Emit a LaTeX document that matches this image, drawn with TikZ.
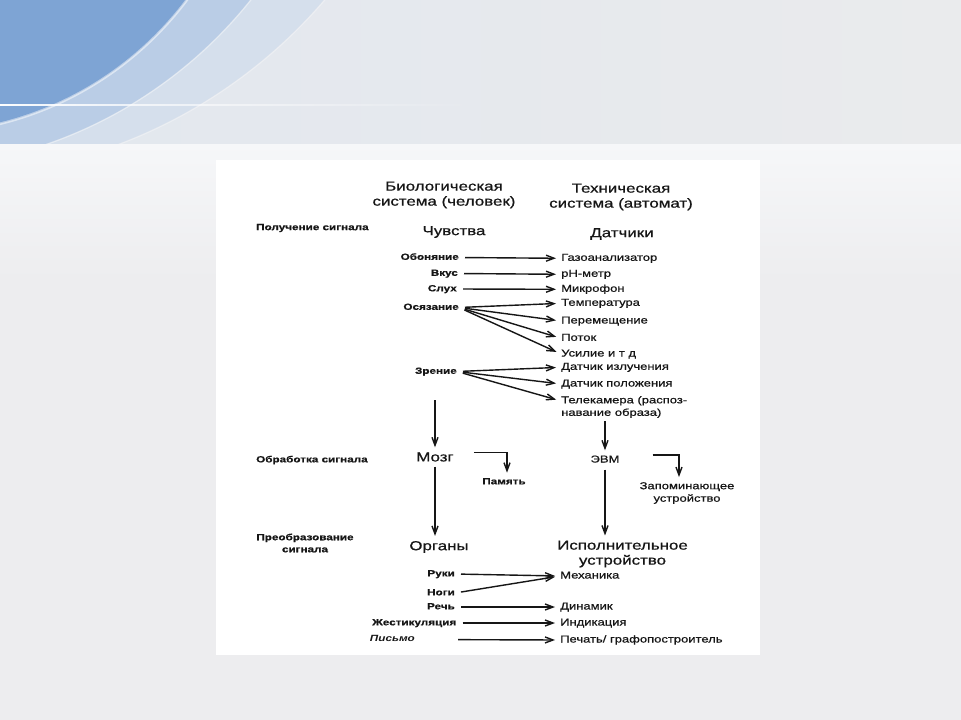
\documentclass[tikz,border=0pt]{standalone}
\usepackage{fontspec}
\newfontfamily\scanfont[FakeStretch=1.3,UprightFeatures={FakeBold=0.7},BoldFeatures={FakeBold=0.6}]{Liberation Sans}
\usetikzlibrary{arrows.meta,calc,fadings}
\definecolor{InkBlack}{RGB}{22,22,22}
\definecolor{SlideGray}{RGB}{237,237,239}
\definecolor{HeadLeft}{RGB}{226,231,238}
\definecolor{HeadRight}{RGB}{234,235,237}
\definecolor{ArcDark}{RGB}{126,164,212}
\definecolor{ArcMid}{RGB}{186,205,230}
\definecolor{ArcLight}{RGB}{213,223,236}
\definecolor{BandWhite}{RGB}{246,247,249}

\begin{document}
\begin{tikzpicture}[x=1pt,y=-1pt,>={Straight Barb[length=8pt,width=6pt]},
    big/.style={font=\scanfont\fontsize{13}{15}\selectfont,text=InkBlack,inner sep=0pt,align=center},
    stage/.style={font=\scanfont\bfseries\fontsize{9}{12}\selectfont,text=InkBlack,inner sep=0pt,align=center},
    organ/.style={font=\scanfont\bfseries\fontsize{9}{11}\selectfont,text=InkBlack,inner sep=0pt,anchor=east,text height=6.5pt,text depth=1.8pt},
    device/.style={font=\scanfont\fontsize{10}{12.5}\selectfont,text=InkBlack,inner sep=0pt,anchor=west,align=left,text height=7pt,text depth=2pt},
    link/.style={->,line width=1.4pt,draw=InkBlack,shorten <=6pt,shorten >=5pt},
    flow/.style={->,line width=1.4pt,draw=InkBlack,shorten <=5pt,shorten >=5pt}]
  \useasboundingbox (0,0) rectangle (961,720);
  % slide background
  \fill[SlideGray] (0,0) rectangle (961,720);
  \shade[top color=BandWhite,bottom color=SlideGray] (0,143) rectangle (961,280);
  \shade[left color=HeadLeft,right color=HeadRight] (0,0) rectangle (961,143);
  \begin{scope}
    \clip (0,0) rectangle (961,143);
    \fill[ArcLight] (-60,-330) circle[radius=506];
    \fill[ArcMid] (-100,-280) circle[radius=448];
    \fill[ArcDark] (-80,-200) circle[radius=332];
    \draw[white,opacity=.5,line width=1.5pt] (-80,-200) circle[radius=334];
    \draw[white,opacity=.4,line width=1pt] (-100,-280) circle[radius=449];
    \draw[white,opacity=.3,line width=1pt] (-60,-330) circle[radius=507];
  \end{scope}
  \fill[white,path fading=east] (0,104.3) rectangle (480,106);
  \fill[white] (216,160) rectangle (760,655);

  \node[big] (bio) at (444,195) {Биологическая\\система (человек)};
  \node[big] (tech) at (621,197) {Техническая\\система (автомат)};
  \node[stage,anchor=west] (receive) at (256,228) {Получение сигнала};
  \node[big] (senses) at (454,232) {Чувства};
  \node[big] (sensors) at (622,234) {Датчики};

  \node[organ] (smell) at (459,257.5) {Обоняние};
  \node[organ] (taste) at (458,273.5) {Вкус};
  \node[organ] (hearing) at (457,289) {Слух};
  \node[organ] (touch) at (459,307.5) {Осязание};
  \node[organ] (sight) at (457,371.5) {Зрение};

  \node[device] (gas) at (561,258.3) {Газоанализатор};
  \node[device] (phmeter) at (561,274.3) {pH-метр};
  \node[device] (micro) at (561,289.3) {Микрофон};
  \node[device] (temper) at (561,303.3) {Температура};
  \node[device] (displ) at (561,321) {Перемещение};
  \node[device] (flux) at (561,338.3) {Поток};
  \node[device] (force) at (561,354) {Усилие и т д};
  \node[device] (radiat) at (561,367.3) {Датчик излучения};
  \node[device] (posit) at (561,384) {Датчик положения};
  \node[device,text height=,text depth=] (camera) at (561,407) {Телекамера (распоз-\\навание образа)};

  \draw[link] (smell.east) -- (gas.west);
  \draw[link] (taste.east) -- (phmeter.west);
  \draw[link] (hearing.east) -- (micro.west);
  \draw[link] (touch.east) -- (temper.west);
  \draw[link] (touch.east) -- (displ.west);
  \draw[link] (touch.east) -- (flux.west);
  \draw[link] (touch.east) -- (force.west);
  \draw[link] (sight.east) -- (radiat.west);
  \draw[link] (sight.east) -- (posit.west);
  \draw[link] (sight.east) -- ([yshift=6pt]camera.west);

  \node[stage,anchor=west] (process) at (256,460) {Обработка сигнала};
  \node[big] (brain) at (435,457) {Мозг};
  \node[organ,anchor=center] (memory) at (504,482) {Память};
  \node[device,anchor=center] (computer) at (605,460) {ЭВМ};
  \node[device,anchor=center,align=center,text height=,text depth=] (storage) at (687,493) {Запоминающее\\устройство};

  \coordinate (sensebase) at (435,400);
  \draw[flow,shorten <=0pt] (sensebase) -- (brain);
  \draw[flow,shorten <=3pt] (camera.south -| computer) -- (computer);
  \draw[flow,shorten <=0pt] ($(brain.east)+(20,-4.5)$) -| ([xshift=3pt]memory.north);
  \draw[flow,shorten <=0pt] ($(computer.east)+(33,-5)$) -| ([xshift=-8pt]storage.north);

  \node[stage] (convert) at (305,543) {Преобразование\\сигнала};
  \node[big] (organs) at (439,547) {Органы};
  \node[big] (actuator) at (622.5,554) {Исполнительное\\устройство};
  \draw[flow] (brain) -- (brain |- organs.north);
  \draw[flow] (computer) -- (computer |- actuator.north);

  \node[organ] (hands) at (455,574) {Руки};
  \node[organ] (legs) at (455,593) {Ноги};
  \node[organ] (speech) at (455,607) {Речь};
  \node[organ] (gesture) at (456.5,623) {Жестикуляция};
  \node[organ,font=\scanfont\bfseries\itshape\fontsize{9}{11}\selectfont] (writing) at (415,639.5) {Письмо};
  \node[device] (mech) at (560,576) {Механика};
  \node[device] (speaker) at (560,607) {Динамик};
  \node[device] (display) at (560,623) {Индикация};
  \node[device] (printer) at (560,640) {Печать/ графопостроитель};

  \draw[link] (hands.east) -- (mech.west);
  \draw[link] (legs.east) -- (mech.west);
  \draw[link] (speech.east) -- (speaker.west);
  \draw[link] (gesture.east) -- (display.west);
  \draw[link,shorten <=43pt] (writing.east) -- (printer.west);
\end{tikzpicture}
\end{document}
